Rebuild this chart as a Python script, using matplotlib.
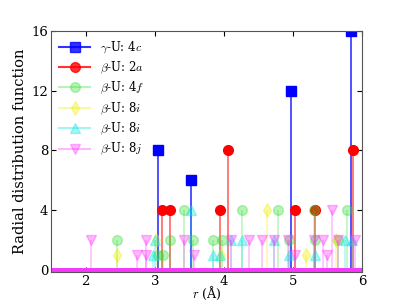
import matplotlib
matplotlib.use('Agg')
import matplotlib.pyplot as plt

plt.rcParams['font.family'] = 'serif'
plt.rcParams['font.serif'] = ['DejaVu Serif']
plt.rcParams['mathtext.fontset'] = 'cm'

# peak positions (r in Angstrom) and heights
gU_4c_r = [3.04, 3.52, 4.98, 5.84]
gU_4c_h = [8, 6, 12, 16]

bU_2a_r = [3.10, 3.22, 3.94, 4.06, 5.03, 5.32, 5.87]
bU_2a_h = [4, 4, 4, 8, 4, 4, 8]

bU_4f_r = [2.46, 3.05, 3.12, 3.22, 3.43, 3.56, 3.84, 3.98, 4.26, 4.78, 4.95, 5.30, 5.32, 5.66, 5.79]
bU_4f_h = [2, 1, 1, 2, 4, 2, 2, 2, 4, 4, 2, 4, 2, 2, 4]

bU_8i_a_r = [2.46, 3.02, 3.96, 4.62, 5.19, 5.62]
bU_8i_a_h = [1, 2, 1, 4, 1, 2]

bU_8i_b_r = [2.98, 3.01, 3.52, 3.84, 3.94, 4.10, 4.26, 4.73, 4.95, 5.32, 5.75, 5.85]
bU_8i_b_h = [1, 2, 4, 1, 1, 2, 2, 2, 1, 1, 2, 2]

bU_8j_r = [2.08, 2.75, 2.88, 2.88, 3.43, 3.57, 4.10, 4.37, 4.55, 4.73, 4.93, 5.03,
           5.30, 5.44, 5.50, 5.56, 5.66, 5.90]
bU_8j_h = [2, 1, 1, 2, 2, 1, 2, 2, 2, 2, 2, 1, 2, 2, 1, 4, 2, 2]

series = [
    (gU_4c_r, gU_4c_h, 'b', 's', 1.0, 0.8, r'$\gamma$-U: 4$c$'),
    (bU_2a_r, bU_2a_h, 'r', 'o', 1.0, 0.6, r'$\beta$-U: 2$a$'),
    (bU_4f_r, bU_4f_h, '#33dd33', 'o', 0.35, 0.3, r'$\beta$-U: 4$f$'),
    (bU_8i_a_r, bU_8i_a_h, '#eeee00', 'd', 0.35, 0.3, r'$\beta$-U: 8$i$'),
    (bU_8i_b_r, bU_8i_b_h, '#00e5e5', '^', 0.35, 0.3, r'$\beta$-U: 8$i$'),
    (bU_8j_r, bU_8j_h, '#ff33ff', 'v', 0.35, 0.3, r'$\beta$-U: 8$j$'),
]

fig = plt.figure(figsize=(4.03, 3.02), dpi=100)
ax = fig.add_axes([0.127, 0.099, 0.771, 0.798])

for r, h, c, m, ma, la, lab in series:
    ax.vlines(r, 0, h, colors=c, alpha=la, lw=1.2)
    ax.plot(r, h, linestyle='none', marker=m, color=c, alpha=ma, ms=7, mec=c)
    ax.plot([1.5, 6], [0, 0], color=c, lw=3.5)
    ax.plot([], [], color=c, marker=m, ms=7, alpha=ma if ma < 1 else 0.8, label=lab)

ax.set_xlim(1.5, 6)
ax.set_ylim(-0.15, 16)
ax.set_xticks([2, 3, 4, 5, 6])
ax.set_yticks([0, 4, 8, 12, 16])
ax.tick_params(direction='in', top=True, right=True, labelsize=9.5, pad=2)
for s in ax.spines.values():
    s.set_color('#555555')
ax.set_xlabel(r'$r$ (Å)', fontsize=9)
ax.xaxis.set_label_coords(0.5, -0.055)
ax.set_ylabel('Radial distribution function', fontsize=10.5, labelpad=3)
ax.legend(loc='upper left', fontsize=8.5, frameon=False,
          handlelength=2.6, borderaxespad=0.3, labelspacing=0.35)

fig.savefig('out.png', dpi=100)
